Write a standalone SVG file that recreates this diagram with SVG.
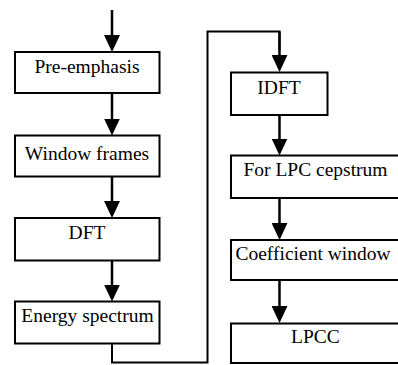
<svg xmlns="http://www.w3.org/2000/svg" width="398" height="365" viewBox="0 0 398 365">
  <style>
    .box { fill: #fff; stroke: #000; stroke-width: 2; }
    .arrow { fill: none; stroke: #000; stroke-width: 2.5; marker-end: url(#head); }
    .wire { fill: none; stroke: #000; stroke-width: 2; }
  </style>
  <defs>
    <marker id="head" markerUnits="userSpaceOnUse" markerWidth="17" markerHeight="16" refX="7" refY="8" orient="auto" viewBox="0 0 17 16">
      <path d="M0,0 L17,8 L0,16 Z" fill="#000"/>
    </marker>
  </defs>

  <rect width="398" height="365" fill="#fff"/>

  <!-- connectors -->
  <g id="connectors">
    <path class="arrow" d="M112,10 L112,42"/>
    <path class="arrow" d="M112,93 L112,125.5"/>
    <path class="arrow" d="M112,176.5 L112,208"/>
    <path class="arrow" d="M112,260.5 L112,291.5"/>
    <path class="wire" d="M112,343.5 L112,362.5 L207.5,362.5 L207.5,31.5 L279.5,31.5 L279.5,50"/>
    <path class="arrow" d="M279.5,31.5 L279.5,62"/>
    <path class="arrow" d="M279.5,115 L279.5,145.5"/>
    <path class="arrow" d="M279.5,198 L279.5,230"/>
    <path class="arrow" d="M279.5,280 L279.5,313"/>
  </g>

  <g font-family="'Liberation Serif', 'Times New Roman', 'DejaVu Serif', serif" font-size="19.5" fill="#000" text-anchor="middle">
    <!-- left column -->
    <g id="pre-emphasis">
      <rect class="box" x="15" y="52" width="144.5" height="41"/>
      <text x="87" y="72.5">Pre-emphasis</text>
    </g>
    <g id="window-frames">
      <rect class="box" x="15" y="135.5" width="144.5" height="41"/>
      <text x="87" y="160">Window frames</text>
    </g>
    <g id="dft">
      <rect class="box" x="15" y="218" width="144.5" height="42.5"/>
      <text x="87" y="239">DFT</text>
    </g>
    <g id="energy-spectrum">
      <rect class="box" x="15" y="301.5" width="144.5" height="42"/>
      <text x="87.5" y="321.5">Energy spectrum</text>
    </g>

    <!-- right column -->
    <g id="idft">
      <rect class="box" x="231" y="72.5" width="96.5" height="42.5"/>
      <text x="279" y="93.5">IDFT</text>
    </g>
    <g id="lpc-cepstrum">
      <rect class="box" x="231" y="155.5" width="170" height="42.5"/>
      <text x="315.5" y="176">For LPC cepstrum</text>
    </g>
    <g id="coefficient-window">
      <rect class="box" x="231" y="240" width="170" height="40"/>
      <text x="313" y="259.5">Coefficient window</text>
    </g>
    <g id="lpcc">
      <rect class="box" x="231" y="323.5" width="170" height="39.5"/>
      <text x="315.5" y="343">LPCC</text>
    </g>
  </g>
</svg>
